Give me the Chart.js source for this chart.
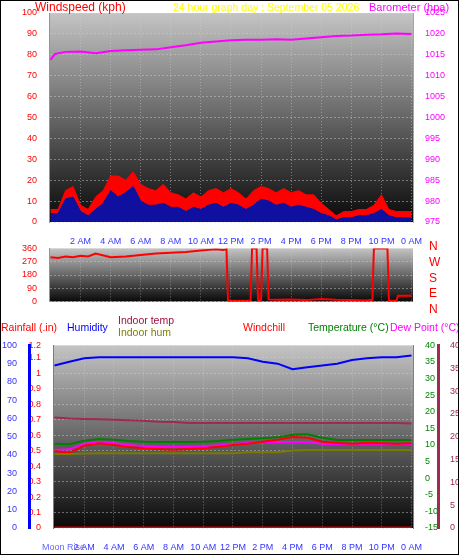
<!DOCTYPE html>
<html lang="en">
<head>
<meta charset="UTF-8">
<title>24 hour graph</title>
<script src="https://cdn.jsdelivr.net/npm/chart.js"></script>
<style>
    body { margin: 0; background: #fff; font-family: 'Liberation Sans', Arial, sans-serif; }
    #wrap { position: relative; width: 459px; height: 555px; box-sizing: border-box; border: 1px solid #000; overflow: hidden; }
    canvas { position: absolute; left: 0; }
    .lbl { position: absolute; font-size: 10.5px; white-space: nowrap; line-height: 12px; }
    .dir { position: absolute; left: 428px; color: #f00; font-size: 12px; line-height: 12px; }
</style>
</head>
<body>
<div id="wrap">
    <canvas id="c1" width="459" height="245" style="top:0"></canvas>
    <canvas id="c2" width="459" height="72" style="top:238px"></canvas>
    <canvas id="c3" width="459" height="220" style="top:335px"></canvas>
    <div class="lbl" style="left:34px;top:0;color:#f00;font-size:12px">Windspeed (kph)</div>
    <div class="lbl" style="left:172px;top:0;color:#ff0">24 hour graph day : September 05 2026</div>
    <div class="lbl" style="left:368px;top:0;color:#f0f;font-size:11px">Barometer (hpa)</div>
    <div class="lbl" style="left:0;top:320px;color:#f00">Rainfall (.in)</div>
    <div class="lbl" style="left:66px;top:320px;color:#00f">Humidity</div>
    <div class="lbl" style="left:117px;top:313px;color:#a01040">Indoor temp</div>
    <div class="lbl" style="left:117px;top:325px;color:#808000">Indoor hum</div>
    <div class="lbl" style="left:242px;top:320px;color:#f00">Windchill</div>
    <div class="lbl" style="left:307px;top:320px;color:#008000">Temperature (°C)</div>
    <div class="lbl" style="left:389px;top:320px;color:#f0f">Dew Point (°C)</div>
    <div class="lbl" style="left:41px;top:540px;color:#66f;font-size:9px">Moon Rise</div>
    <div class="dir" style="top:239px">N</div>
    <div class="dir" style="top:255px">W</div>
    <div class="dir" style="top:271px">S</div>
    <div class="dir" style="top:286px">E</div>
    <div class="dir" style="top:302px">N</div>
</div>
<script>
const timeLabels = ['2 AM','4 AM','6 AM','8 AM','10 AM','12 PM','2 PM','4 PM','6 PM','8 PM','10 PM','0 AM'];

const halfHours = [0,0.5,1,1.5,2,2.5,3,3.5,4,4.5,5,5.5,6,6.5,7,7.5,8,8.5,9,9.5,10,10.5,11,11.5,12,
    12.5,13,13.5,14,14.5,15,15.5,16,16.5,17,17.5,18,18.5,19,19.5,20,20.5,21,21.5,22,22.5,23,23.5,24];
const windGust = [6,6,15,17,8,6,12,15,22,22,20,24,18,16,15,18,14,13,11,14,12,15,16,14,16,
    14,11,15,17,16,14,16,14,15,13,13,9,6,3,5,5,6,6,8,13,6,5,5,5];
const windAvg = [4,4,11,12,5,3,6,9,15,12,14,17,10,8,8,9,7,7,5,7,6,8,9,7,9,
    8,6,8,11,10,8,9,7,8,7,6,4,3,1,2,2,3,3,4,6,3,2,2,2];
const baroHours = [0,0.3,1,2,3,4,5,6,7,8,9,10,11,12,13,14,15,16,17,18,19,20,21,22,23,24];
const barometer = [1013.8,1015.2,1015.7,1015.8,1015.4,1015.9,1016.1,1016.2,1016.3,1016.8,1017.3,1017.9,1018.2,1018.5,1018.6,1018.6,1018.7,1018.6,1018.9,1019.2,1019.5,1019.6,1019.8,1019.9,1020.1,1020.0];

const dirHours = [0,0.5,1,1.5,2,2.5,3,4,5,6,7,8,9,10,10.5,11,11.5,11.7,11.8,12,13,13.3,13.4,13.7,13.8,14,14.1,14.4,14.5,
    15,16,17,18,19,20,21,21.4,21.5,22.4,22.5,23,23.1,24];
const windDir = [300,295,305,300,310,305,325,300,305,315,325,330,335,345,350,355,350,355,5,5,5,8,360,360,8,8,360,360,15,
    12,15,10,18,12,10,8,12,360,360,5,5,40,40];

const hours = [0,1,2,3,4,5,6,7,8,9,10,11,12,13,14,15,16,17,18,19,20,21,22,23,24];
const humidity = [89,91,93,93.5,93.5,93.5,93.5,93.5,93.5,93.5,93.5,93.5,93.5,93,91,90,87,88,89,90,92,93,93.5,93.5,94.5];
const indoorTemp = [24.2,24.0,23.9,23.8,23.7,23.6,23.5,23.3,23.2,23.0,23.0,23.0,23.0,23.0,23.0,23.0,23.0,23.0,23.0,23.0,23.0,23.0,23.0,23.0,22.9];
const indoorHum = [40.5,40.5,40.8,41,41,41,41,41,41,41,41,41,41,41.5,41.5,41.5,42.5,42.7,42.7,42.7,42.7,42.7,42.7,42.7,42.7];
const temperature = [10.4,10.2,11.3,11.8,11.6,11.2,11.0,10.9,10.9,10.9,11.0,11.2,11.6,11.8,12.0,12.3,13.1,13.2,12.2,11.5,11.5,11.5,11.5,11.5,11.5];
const dewPoint = [8.5,8.7,10.4,10.9,10.6,10.0,9.7,9.5,9.5,9.5,9.6,9.9,10.3,10.6,10.8,10.9,10.9,10.8,10.4,10.3,10.3,10.3,10.3,10.3,10.3];
const windchill = [8.2,7.6,9.8,10.5,10.0,9.4,9.0,8.8,8.6,8.8,9.0,9.5,10.0,10.4,11.0,11.6,12.4,12.2,11.0,10.6,10.4,10.6,10.5,10.4,10.5];
const rainfall = [0,0,0,0,0,0,0,0,0,0,0,0,0,0,0,0,0,0,0,0,0,0,0,0,0];

const pts = (xs, ys) => xs.map((x, i) => ({ x: x, y: ys[i] }));
const bg = {
    id: 'bg',
    beforeDraw(c) {
        const { ctx, chartArea: a } = c;
        const g = ctx.createLinearGradient(0, a.top, 0, a.bottom);
        g.addColorStop(0, '#c4c4c4');
        g.addColorStop(1, '#080808');
        ctx.fillStyle = g;
        ctx.fillRect(a.left, a.top, a.width, a.height);
    }
};
const fnt = { family: "'Liberation Sans', Arial", size: 9 };
const grid = { color: 'rgba(210,210,210,0.45)', tickColor: 'transparent' };
const xAxis = (showLabels, h) => ({
    type: 'linear', min: -0.1, max: 24.1,
    afterBuildTicks(s) { s.ticks = timeLabels.map((_, i) => ({ value: (i + 1) * 2 })); },
    afterFit(s) { s.height = h; },
    grid: grid, border: { display: false, dash: [1, 2] },
    ticks: { display: showLabels, color: '#33f', font: fnt, maxRotation: 0, autoSkip: false, padding: 6, callback: v => timeLabels[v / 2 - 1] }
});
const yAxis = (pos, w, min, max, step, color, borderColor, borderW, showGrid) => ({
    position: pos, min: min, max: max,
    afterFit(s) { s.width = w; },
    grid: showGrid ? grid : { display: false },
    border: { display: true, color: borderColor, width: borderW, dash: borderW < 2 ? [2, 2] : [], z: 1 },
    ticks: { color: color, font: fnt, stepSize: step, padding: 4, autoSkip: false, callback: v => String(Math.round(v * 10) / 10) }
});
const base = {
    animation: false, responsive: false, maintainAspectRatio: false,
    plugins: { legend: { display: false }, tooltip: { enabled: false } },
    elements: { point: { radius: 0 }, line: { tension: 0, borderWidth: 2 } }
};

new Chart(document.getElementById('c1'), {
    type: 'line',
    data: { datasets: [
        { data: pts(baroHours, barometer), yAxisID: 'baro', borderColor: '#f0f' },
        { data: pts(halfHours, windAvg), yAxisID: 'wind', borderColor: '#1010a0', backgroundColor: '#1010a0', fill: 'origin', borderWidth: 1 },
        { data: pts(halfHours, windGust), yAxisID: 'wind', borderColor: '#f00', backgroundColor: '#f00', fill: '-1', borderWidth: 1 }
    ] },
    options: Object.assign({}, base, {
        layout: { padding: { top: 12 } },
        scales: {
            x: xAxis(true, 24),
            wind: yAxis('left', 48, 0, 100, 10, '#f00', '#f66', 1, true),
            baro: yAxis('right', 47, 975, 1025, 5, '#f0f', '#f6f', 1, false)
        }
    }),
    plugins: [bg]
});

new Chart(document.getElementById('c2'), {
    type: 'line',
    data: { datasets: [
        { data: pts(dirHours, windDir), yAxisID: 'dir', borderColor: '#f00' }
    ] },
    options: Object.assign({}, base, {
        layout: { padding: { top: 5, bottom: 5, right: 47 } },
        scales: {
            x: xAxis(false, 0),
            dir: yAxis('left', 48, 0, 360, 90, '#f00', '#f66', 1, true)
        }
    }),
    plugins: [bg]
});

new Chart(document.getElementById('c3'), {
    type: 'line',
    data: { datasets: [
        { data: pts(hours, humidity), yAxisID: 'hum', borderColor: '#00f' },
        { data: pts(hours, indoorTemp), yAxisID: 'itemp', borderColor: '#a02a50' },
        { data: pts(hours, indoorHum), yAxisID: 'hum', borderColor: '#7a7a00' },
        { data: pts(hours, temperature), yAxisID: 'temp', borderColor: '#008000' },
        { data: pts(hours, windchill), yAxisID: 'temp', borderColor: '#f00' },
        { data: pts(hours, dewPoint), yAxisID: 'temp', borderColor: '#f0f' },
        { data: pts(hours, rainfall), yAxisID: 'rain', borderColor: '#e00000', borderWidth: 3 }
    ] },
    options: Object.assign({}, base, {
        layout: { padding: { top: 5 } },
        scales: {
            x: xAxis(true, 28),
            rain: yAxis('left', 24, 0, 1.18, 0.1, '#f00', '#f44', 1, true),
            hum: yAxis('left', 28, 0, 100, 10, '#33f', '#00f', 3, false),
            temp: yAxis('right', 25, -15, 40, 5, '#080', '#4a4', 1, false),
            itemp: yAxis('right', 22, 0, 40, 5, '#a02a50', '#a02a50', 3, false)
        }
    }),
    plugins: [bg]
});
</script>
</body>
</html>
